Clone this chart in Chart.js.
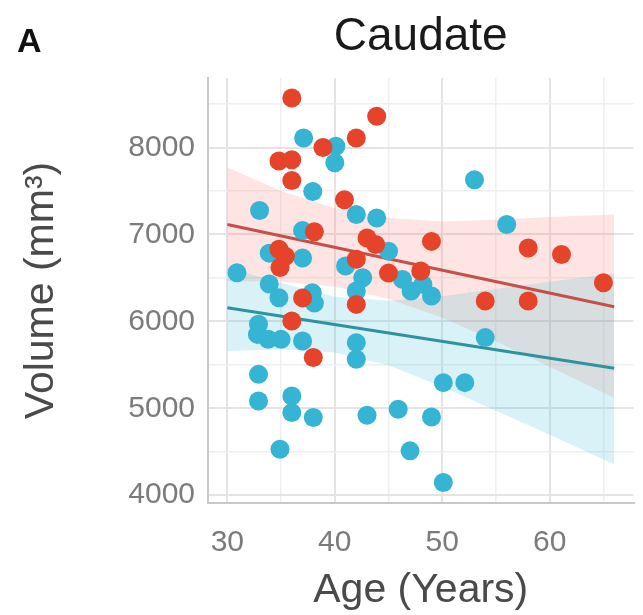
<!DOCTYPE html>
<html><head><meta charset="utf-8">
<script src="https://cdn.jsdelivr.net/npm/chart.js@4.4.0/dist/chart.umd.min.js"></script>
<style>html,body{margin:0;padding:0;background:#fff;} canvas{display:block;}</style>
</head><body>
<canvas id="c" width="643" height="615"></canvas>
<script>
// ---- data ----
const redAge = [36.0, 43.9, 42.0, 38.9, 34.8, 36.0, 36.0, 40.9, 38.1, 43.0, 43.8, 49.0, 34.8, 35.4, 34.9, 42.0, 45.0, 48.0, 37.0, 42.0, 36.0, 38.0, 58.0, 61.1, 65.0, 54.0, 58.0];
const redVol = [8570, 8360, 8110, 8000, 7845, 7860, 7620, 7400, 7030, 6960, 6885, 6920, 6830, 6750, 6620, 6715, 6555, 6580, 6270, 6195, 6005, 5585, 6845, 6770, 6445, 6235, 6235];
const tealAge = [37.1, 40.1, 40.0, 37.95, 33.0, 42.0, 43.9, 37.0, 45.0, 33.9, 37.0, 41.0, 30.9, 42.6, 46.3, 33.9, 37.9, 38.1, 34.8, 47.1, 48.2, 49.0, 42.0, 32.9, 32.8, 33.8, 35.0, 37.0, 42.0, 42.0, 32.9, 32.9, 36.0, 36.0, 38.0, 43.0, 45.9, 49.0, 34.9, 47.0, 50.1, 50.1, 52.1, 54.0, 53.0, 56.0];
const tealVol = [8110, 8015, 7825, 7495, 7275, 7230, 7190, 7045, 6808, 6785, 6728, 6636, 6560, 6502, 6483, 6430, 6330, 6210, 6272, 6349, 6425, 6291, 6349, 5966, 5850, 5795, 5793, 5774, 5755, 5565, 5390, 5084, 5141, 4950, 4893, 4920, 4989, 4900, 4529, 4510, 4146, 5295, 5295, 5813, 7630, 7115];
const fitAge = [30, 66];
const redFit = [7115, 6169];
const tealFit = [6157, 5460];
const bandAge = [30, 35, 40, 45, 50, 55, 60, 66];
const redUpper = [7770, 7500, 7300, 7190, 7150, 7170, 7200, 7230];
const redLower = [6460, 6458, 6400, 6261, 6041, 5772, 5478, 5120];
const tealUpper = [6620, 6440, 6283, 6236, 6289, 6372, 6455, 6550];
const tealLower = [5660, 5680, 5643, 5496, 5249, 4972, 4695, 4355];
const xTicks = [30, 35, 40, 45, 50, 55, 60, 65];
const yTicks = [4000, 4500, 5000, 5500, 6000, 6500, 7000, 7500, 8000, 8500];

const FONT = '"Liberation Sans", Arial, Helvetica, sans-serif';
Chart.defaults.font.family = FONT;
const pts = (xs, ys) => xs.map((x, i) => ({x: x, y: ys[i]}));

const RED = '#E6432B', TEAL = '#35B4D3';
const MAJOR = '#e4e4e4', MINOR = '#efefef';

const panelA = {
  id: 'panelA',
  afterDraw(chart) {
    const ctx = chart.ctx;
    ctx.save();
    ctx.font = 'bold 34px ' + FONT;
    ctx.fillStyle = '#111';
    ctx.textBaseline = 'alphabetic';
    ctx.fillText('A', 17, 52);
    ctx.restore();
  }
};

new Chart(document.getElementById('c'), {
  type: 'scatter',
  data: {
    datasets: [
      {data: pts(redAge, redVol), backgroundColor: RED, borderWidth: 0, pointRadius: 9.5, order: 0},
      {data: pts(tealAge, tealVol), backgroundColor: TEAL, borderWidth: 0, pointRadius: 9.5, order: 1},
      {type: 'line', data: pts(fitAge, redFit), borderColor: '#C4504A', borderWidth: 3, pointRadius: 0, fill: false, order: 2},
      {type: 'line', data: pts(fitAge, tealFit), borderColor: '#2E939F', borderWidth: 3, pointRadius: 0, fill: false, order: 2},
      {type: 'line', data: pts(bandAge, redUpper), borderWidth: 0, pointRadius: 0, fill: '+1', backgroundColor: 'rgba(248,118,109,0.2)', order: 4},
      {type: 'line', data: pts(bandAge, redLower), borderWidth: 0, pointRadius: 0, fill: false, order: 4},
      {type: 'line', data: pts(bandAge, tealUpper), borderWidth: 0, pointRadius: 0, fill: '+1', backgroundColor: 'rgba(60,190,215,0.2)', order: 3},
      {type: 'line', data: pts(bandAge, tealLower), borderWidth: 0, pointRadius: 0, fill: false, order: 3}
    ]
  },
  options: {
    responsive: false,
    devicePixelRatio: 1,
    animation: false,
    layout: {padding: {left: 0, right: 3, top: 0, bottom: 0}},
    plugins: {
      legend: {display: false},
      tooltip: {enabled: false},
      title: {
        display: true, text: 'Caudate', fullSize: false,
        color: '#1a1a1a', font: {family: FONT, size: 46, weight: 'normal'},
        padding: {top: 10, bottom: 12.8}
      }
    },
    scales: {
      x: {
        type: 'linear', min: 28.2, max: 67.8,
        afterBuildTicks: (axis) => { axis.ticks = xTicks.map(v => ({value: v})); },
        afterFit: (axis) => { axis.height = 112; },
        ticks: {
          autoSkip: false, maxRotation: 0, padding: 22, color: '#7b7b7b',
          font: {family: FONT, size: 30},
          callback: (v) => (v % 10 === 0 ? String(v) : '')
        },
        grid: {
          drawTicks: false,
          color: (c) => (c.tick && c.tick.value % 10 === 0 ? MAJOR : MINOR),
          lineWidth: (c) => (c.tick && c.tick.value % 10 === 0 ? 2 : 1.5)
        },
        border: {display: true, color: '#c9c9c9', width: 2},
        title: {display: true, text: 'Age (Years)', color: '#4a4a4a', font: {family: FONT, size: 41}, padding: {top: 0, bottom: 0}}
      },
      y: {
        type: 'linear', min: 3910, max: 8800,
        afterBuildTicks: (axis) => { axis.ticks = yTicks.map(v => ({value: v})); },
        afterFit: (axis) => { axis.width = 208; },
        ticks: {
          autoSkip: false, padding: 13, color: '#7b7b7b',
          font: {family: FONT, size: 30},
          callback: (v) => (v % 1000 === 0 ? String(v) : '')
        },
        grid: {
          drawTicks: false,
          color: (c) => (c.tick && c.tick.value % 1000 === 0 ? MAJOR : MINOR),
          lineWidth: (c) => (c.tick && c.tick.value % 1000 === 0 ? 2 : 1.5)
        },
        border: {display: true, color: '#c9c9c9', width: 2},
        title: {display: true, text: 'Volume (mm³)', color: '#4a4a4a', font: {family: FONT, size: 41}, padding: {top: 17, bottom: 0}}
      }
    }
  },
  plugins: [panelA]
});
</script>
</body></html>
